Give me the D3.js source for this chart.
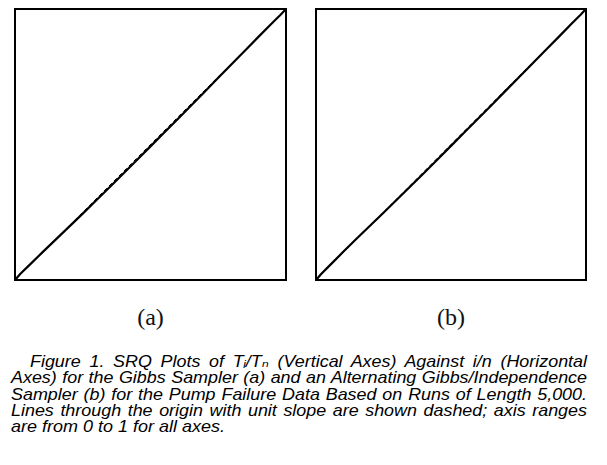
<!DOCTYPE html>
<html><head><meta charset="utf-8">
<script src="https://cdn.jsdelivr.net/npm/d3@7"></script>
<style>body{margin:0;background:#fff}svg{display:block}</style>
</head><body>
<svg id="c" width="607" height="465"></svg>
<script>
// i/n (horizontal axis) values
const fracs = [0, 0.02, 0.05, 0.1, 0.15, 0.2, 0.25, 0.3, 0.35, 0.4, 0.45, 0.5, 0.55, 0.6, 0.65, 0.7, 0.75, 0.8, 0.85, 0.9, 0.95, 0.98, 1];
// T_i/T_n for Gibbs sampler (a)
const srqA = [0, 0.023, 0.052, 0.101, 0.149, 0.197, 0.245, 0.294, 0.343, 0.393, 0.443, 0.493, 0.543, 0.593, 0.644, 0.695, 0.746, 0.797, 0.848, 0.899, 0.949, 0.979, 1];
// T_i/T_n for alternating Gibbs/independence sampler (b)
const srqB = [0, 0.023, 0.053, 0.103, 0.152, 0.200, 0.248, 0.297, 0.346, 0.395, 0.445, 0.495, 0.545, 0.595, 0.645, 0.696, 0.746, 0.797, 0.848, 0.898, 0.949, 0.979, 1];
const panelLabels = ["(a)", "(b)"];
const axisDomain = [0, 1];

const svg = d3.select("#c");
const panels = [
  {x0: 15, x1: 286, y0: 9, y1: 280, vals: srqA, label: panelLabels[0]},
  {x0: 316, x1: 586, y0: 9, y1: 280, vals: srqB, label: panelLabels[1]}
];

panels.forEach(p => {
  const x = d3.scaleLinear().domain(axisDomain).range([p.x0, p.x1]);
  const y = d3.scaleLinear().domain(axisDomain).range([p.y1, p.y0]);
  const g = svg.append("g");
  // dashed unit-slope reference line
  g.append("line")
    .attr("x1", x(0)).attr("y1", y(0)).attr("x2", x(1)).attr("y2", y(1))
    .attr("stroke", "#000").attr("stroke-width", 1).attr("stroke-dasharray", "4,3");
  // SRQ curve
  const line = d3.line().x((d, i) => x(fracs[i])).y(d => y(d));
  g.append("path").datum(p.vals).attr("d", line)
    .attr("fill", "none").attr("stroke", "#000").attr("stroke-width", 2.2)
    .attr("stroke-linejoin", "round");
  // frame
  g.append("rect")
    .attr("x", x(0)).attr("y", y(1))
    .attr("width", x(1) - x(0)).attr("height", y(0) - y(1))
    .attr("fill", "none").attr("stroke", "#000").attr("stroke-width", 2);
  // panel label
  svg.append("text")
    .attr("x", (x(0) + x(1)) / 2).attr("y", 325)
    .attr("text-anchor", "middle")
    .attr("font-family", "'Liberation Serif', serif")
    .attr("font-size", 24)
    .attr("fill", "#111")
    .text(p.label);
});

// caption
const FS = 16, SX = 1.12;
const cap = svg.append("g")
  .attr("font-family", "'Liberation Sans', Arial, 'DejaVu Sans', sans-serif")
  .attr("font-style", "italic")
  .attr("font-size", FS)
  .attr("fill", "#000");

function layoutLine(s, x0, y, target, sx) {
  const g = cap.append("g").attr("transform", `translate(${x0},${y}) scale(${sx},1)`);
  const t = g.append("text").attr("x", 0).attr("y", 0).text(s);
  const nat = t.node().getComputedTextLength();
  const spaces = (s.match(/ /g) || []).length;
  if (spaces) t.attr("word-spacing", (target / sx - nat) / spaces);
  return g;
}

const rightEdge = 587;
const captionLines = [
  "Figure 1. SRQ Plots of T\u1D62/T\u2099 (Vertical Axes) Against i/n (Horizontal",
  "Axes) for the Gibbs Sampler (a) and an Alternating Gibbs/Independence",
  "Sampler (b) for the Pump Failure Data Based on Runs of Length 5,000.",
  "Lines through the origin with unit slope are shown dashed; axis ranges"
];
captionLines.forEach((s, i) => {
  const x0 = i === 0 ? 30 : 11;
  layoutLine(s, x0, 367 + i * 16.3, rightEdge - x0, SX);
});
// last line (not justified), stretched to match the reference width
const lastG = cap.append("g");
const lastT = lastG.append("text").text("are from 0 to 1 for all axes.");
const lastW = lastT.node().getComputedTextLength();
lastG.attr("transform", `translate(11,${367 + 4 * 16.3}) scale(${214 / lastW},1)`);
</script>
</body></html>
